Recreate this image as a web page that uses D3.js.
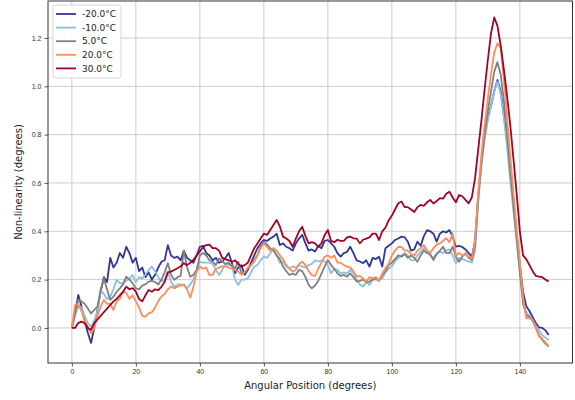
<!DOCTYPE html>
<html>
<head>
<meta charset="utf-8">
<script src="https://cdn.jsdelivr.net/npm/d3@7"></script>
<style>
  body { margin: 0; background: #fff; }
  svg { font-family: "DejaVu Sans", sans-serif; }
</style>
</head>
<body>
<svg id="chart" width="575" height="400"></svg>
<script>
// angular positions (degrees), one sample per degree
var angles = d3.range(0, 150);

var labels = ["-20.0°C", "-10.0°C", "5.0°C", "20.0°C", "30.0°C"];
var colors = ["#313695", "#8cc0de", "#808080", "#fc8d59", "#a50026"];

var tMinus20 = [
  0, 0.06, 0.137, 0.09, 0.03, -0.02, -0.062, 0, 0.075, 0.15,
  0.21, 0.19, 0.29, 0.25, 0.27, 0.31, 0.29, 0.336, 0.31, 0.27,
  0.29, 0.235, 0.25, 0.21, 0.23, 0.2, 0.22, 0.25, 0.274, 0.28,
  0.343, 0.3, 0.29, 0.295, 0.28, 0.32, 0.29, 0.28, 0.27, 0.3,
  0.336, 0.34, 0.31, 0.3, 0.28, 0.29, 0.27, 0.274, 0.29, 0.31,
  0.27, 0.226, 0.25, 0.26, 0.22, 0.24, 0.27, 0.3, 0.33, 0.35,
  0.364, 0.36, 0.37, 0.378, 0.39, 0.343, 0.35, 0.336, 0.33, 0.32,
  0.35, 0.37, 0.385, 0.35, 0.32, 0.325, 0.316, 0.34, 0.33, 0.36,
  0.364, 0.35, 0.336, 0.31, 0.295, 0.31, 0.315, 0.336, 0.31, 0.28,
  0.275, 0.268, 0.28, 0.254, 0.29, 0.285, 0.295, 0.254, 0.33, 0.34,
  0.35, 0.364, 0.37, 0.378, 0.375, 0.357, 0.32, 0.325, 0.357, 0.34,
  0.38, 0.405, 0.4, 0.39, 0.357, 0.39, 0.4, 0.395, 0.405, 0.378,
  0.336, 0.34, 0.335, 0.325, 0.31, 0.295, 0.36, 0.55, 0.69, 0.8,
  0.87, 0.92, 0.98, 1.026, 0.98, 0.88, 0.78, 0.64, 0.51, 0.39,
  0.26, 0.15, 0.09, 0.07, 0.045, 0.02, 0.002, 0, -0.01, -0.029
];

var tMinus10 = [
  0, 0.05, 0.088, 0.085, 0.05, 0.02, 0.005, 0.03, 0.068, 0.157,
  0.14, 0.12, 0.13, 0.16, 0.199, 0.185, 0.185, 0.195, 0.205, 0.219,
  0.19, 0.21, 0.205, 0.22, 0.24, 0.254, 0.235, 0.21, 0.192, 0.2,
  0.233, 0.19, 0.171, 0.18, 0.18, 0.175, 0.164, 0.18, 0.2, 0.24,
  0.274, 0.27, 0.27, 0.27, 0.265, 0.24, 0.219, 0.24, 0.265, 0.26,
  0.26, 0.2, 0.178, 0.2, 0.2, 0.205, 0.23, 0.254, 0.26, 0.28,
  0.295, 0.29, 0.309, 0.33, 0.3, 0.27, 0.275, 0.254, 0.245, 0.255,
  0.25, 0.26, 0.255, 0.25, 0.26, 0.265, 0.28, 0.275, 0.28, 0.275,
  0.26, 0.226, 0.245, 0.24, 0.226, 0.23, 0.225, 0.24, 0.225, 0.2,
  0.18, 0.171, 0.19, 0.178, 0.2, 0.2, 0.2, 0.205, 0.23, 0.245,
  0.255, 0.275, 0.29, 0.3, 0.31, 0.3, 0.28, 0.281, 0.3, 0.315,
  0.33, 0.32, 0.3, 0.29, 0.31, 0.315, 0.31, 0.32, 0.325, 0.3,
  0.268, 0.29, 0.285, 0.28, 0.274, 0.27, 0.32, 0.52, 0.67, 0.78,
  0.86, 0.92, 0.98, 1.02, 0.97, 0.87, 0.75, 0.61, 0.48, 0.36,
  0.23, 0.11, 0.065, 0.05, 0.03, 0.01, -0.01, -0.03, -0.04, -0.05
];

var t5 = [
  0, 0.06, 0.116, 0.11, 0.1, 0.08, 0.06, 0.075, 0.088, 0.157,
  0.205, 0.16, 0.116, 0.13, 0.15, 0.164, 0.18, 0.212, 0.2, 0.185,
  0.164, 0.16, 0.175, 0.18, 0.192, 0.195, 0.19, 0.18, 0.2, 0.23,
  0.268, 0.22, 0.199, 0.21, 0.215, 0.32, 0.25, 0.212, 0.22, 0.24,
  0.3, 0.31, 0.3, 0.28, 0.274, 0.26, 0.288, 0.275, 0.265, 0.27,
  0.255, 0.247, 0.274, 0.226, 0.23, 0.245, 0.26, 0.281, 0.3, 0.34,
  0.357, 0.345, 0.33, 0.32, 0.3, 0.285, 0.254, 0.235, 0.219, 0.225,
  0.22, 0.24, 0.235, 0.21, 0.178, 0.164, 0.175, 0.195, 0.225, 0.254,
  0.281, 0.26, 0.245, 0.226, 0.215, 0.22, 0.212, 0.226, 0.21, 0.192,
  0.195, 0.2, 0.19, 0.192, 0.2, 0.205, 0.195, 0.22, 0.233, 0.26,
  0.27, 0.285, 0.3, 0.295, 0.305, 0.29, 0.3, 0.29, 0.274, 0.3,
  0.32, 0.31, 0.305, 0.281, 0.305, 0.32, 0.336, 0.31, 0.31, 0.336,
  0.295, 0.274, 0.295, 0.309, 0.29, 0.281, 0.34, 0.54, 0.69, 0.8,
  0.9, 0.98, 1.06, 1.1, 1.05, 0.94, 0.8, 0.65, 0.51, 0.37,
  0.23, 0.1, 0.054, 0.045, 0.03, 0, -0.03, -0.05, -0.065, -0.077
];

var t20 = [
  0, 0.095, 0.1, 0.07, 0.03, 0.005, -0.022, 0, 0.05, 0.088,
  0.116, 0.1, 0.1, 0.074, 0.11, 0.12, 0.15, 0.145, 0.12, 0.135,
  0.11, 0.085, 0.05, 0.047, 0.06, 0.065, 0.085, 0.11, 0.13, 0.14,
  0.16, 0.171, 0.165, 0.171, 0.175, 0.18, 0.16, 0.125, 0.17, 0.233,
  0.254, 0.245, 0.25, 0.219, 0.22, 0.245, 0.25, 0.255, 0.255, 0.25,
  0.245, 0.24, 0.233, 0.22, 0.23, 0.25, 0.26, 0.274, 0.3, 0.33,
  0.35, 0.335, 0.32, 0.33, 0.32, 0.3, 0.285, 0.26, 0.245, 0.233,
  0.24, 0.265, 0.274, 0.26, 0.235, 0.219, 0.215, 0.245, 0.27, 0.295,
  0.3, 0.29, 0.3, 0.27, 0.27, 0.26, 0.254, 0.25, 0.235, 0.212,
  0.215, 0.205, 0.192, 0.21, 0.205, 0.21, 0.195, 0.225, 0.247, 0.265,
  0.3, 0.32, 0.336, 0.335, 0.32, 0.32, 0.305, 0.3, 0.32, 0.33,
  0.343, 0.32, 0.31, 0.33, 0.345, 0.35, 0.36, 0.371, 0.355, 0.392,
  0.3, 0.31, 0.3, 0.305, 0.295, 0.288, 0.36, 0.56, 0.72, 0.84,
  0.95, 1.05, 1.14, 1.178, 1.16, 1.03, 0.87, 0.71, 0.56, 0.41,
  0.27, 0.13, 0.04, 0.04, 0.035, 0, -0.035, -0.045, -0.06, -0.075
];

var t30 = [
  0, 0, 0.02, 0.026, 0.02, 0, -0.008, 0.02, 0.035, 0.05,
  0.065, 0.08, 0.095, 0.11, 0.12, 0.135, 0.15, 0.171, 0.16, 0.165,
  0.15, 0.12, 0.11, 0.135, 0.157, 0.15, 0.16, 0.157, 0.17, 0.19,
  0.23, 0.233, 0.24, 0.247, 0.255, 0.268, 0.26, 0.27, 0.281, 0.3,
  0.316, 0.335, 0.343, 0.345, 0.33, 0.33, 0.32, 0.29, 0.285, 0.28,
  0.274, 0.28, 0.265, 0.254, 0.26, 0.27, 0.3, 0.33, 0.35, 0.37,
  0.39, 0.385, 0.405, 0.426, 0.447, 0.42, 0.378, 0.37, 0.36, 0.336,
  0.37, 0.4, 0.419, 0.38, 0.35, 0.355, 0.35, 0.336, 0.35, 0.385,
  0.405, 0.36, 0.355, 0.365, 0.36, 0.36, 0.375, 0.378, 0.371, 0.37,
  0.35, 0.365, 0.37, 0.375, 0.39, 0.39, 0.364, 0.4, 0.415, 0.445,
  0.465, 0.49, 0.516, 0.523, 0.5, 0.5, 0.49, 0.48, 0.5, 0.509,
  0.505, 0.52, 0.53, 0.515, 0.525, 0.537, 0.535, 0.555, 0.564, 0.54,
  0.52, 0.55, 0.545, 0.53, 0.516, 0.54, 0.62, 0.74, 0.86, 0.99,
  1.11, 1.22, 1.285, 1.25, 1.17, 1.07, 0.96, 0.84, 0.7, 0.557,
  0.4, 0.3, 0.285, 0.26, 0.235, 0.215, 0.212, 0.21, 0.2, 0.192
];

var seriesValues = [tMinus20, tMinus10, t5, t20, t30];

var xTicks = [0, 20, 40, 60, 80, 100, 120, 140];
var yTicks = [0.0, 0.2, 0.4, 0.6, 0.8, 1.0, 1.2];

var svg = d3.select("#chart");

// axes box
var boxLeft = 48, boxRight = 572.5, boxTop = 1, boxBottom = 363;

// matplotlib style 5% margins
var xMin = d3.min(angles), xMax = d3.max(angles);
var allVals = d3.merge(seriesValues);
var yMin = d3.min(allVals), yMax = d3.max(allVals);
var xPad = (xMax - xMin) * 0.05, yPad = (yMax - yMin) * 0.05;

var x = d3.scaleLinear().domain([xMin - xPad, xMax + xPad]).range([boxLeft, boxRight]);
var y = d3.scaleLinear().domain([yMin - yPad, yMax + yPad]).range([boxBottom, boxTop]);

// grid
var grid = svg.append("g").attr("stroke", "#cccccc").attr("stroke-width", 1);
grid.selectAll("line.vx")
  .data(xTicks)
  .enter().append("line")
    .attr("x1", d => x(d)).attr("x2", d => x(d))
    .attr("y1", boxTop).attr("y2", boxBottom);
grid.selectAll("line.hy")
  .data(yTicks)
  .enter().append("line")
    .attr("x1", boxLeft).attr("x2", boxRight)
    .attr("y1", d => y(d)).attr("y2", d => y(d));

// lines
svg.append("clipPath").attr("id", "clip")
  .append("rect")
    .attr("x", boxLeft).attr("y", boxTop)
    .attr("width", boxRight - boxLeft).attr("height", boxBottom - boxTop);

var line = d3.line()
  .x((d, i) => x(angles[i]))
  .y(d => y(d));

svg.append("g")
  .attr("clip-path", "url(#clip)")
  .selectAll("path")
  .data(seriesValues)
  .enter().append("path")
    .attr("d", d => line(d))
    .attr("fill", "none")
    .attr("stroke", (d, i) => colors[i])
    .attr("stroke-width", 1.8)
    .attr("stroke-linejoin", "round");

// axes
var xAxis = d3.axisBottom(x).tickValues(xTicks).tickFormat(d3.format("d")).tickSize(3.5).tickPadding(3);
var yAxis = d3.axisLeft(y).tickValues(yTicks).tickFormat(d3.format(".1f")).tickSize(3.5).tickPadding(3);

var gx = svg.append("g").attr("transform", "translate(0," + boxBottom + ")").call(xAxis);
var gy = svg.append("g").attr("transform", "translate(" + boxLeft + ",0)").call(yAxis);
[gx, gy].forEach(function(g) {
  g.select(".domain").remove();
  g.selectAll(".tick line").attr("stroke", "#333").attr("stroke-width", 0.8);
  g.selectAll(".tick text").attr("fill", "#333").style("font-size", "7px");
});

// frame
svg.append("rect")
  .attr("x", boxLeft).attr("y", boxTop)
  .attr("width", boxRight - boxLeft).attr("height", boxBottom - boxTop)
  .attr("fill", "none")
  .attr("stroke", "#333")
  .attr("stroke-width", 1);

// axis labels
svg.append("text")
  .attr("x", (boxLeft + boxRight) / 2).attr("y", 389)
  .attr("text-anchor", "middle")
  .style("font-size", "10px")
  .attr("fill", "#222")
  .text("Angular Position (degrees)");

svg.append("text")
  .attr("transform", "translate(22," + ((boxTop + boxBottom) / 2) + ") rotate(-90)")
  .attr("text-anchor", "middle")
  .style("font-size", "10px")
  .attr("fill", "#222")
  .text("Non-linearity (degrees)");

// legend
var legend = svg.append("g").attr("transform", "translate(53,5)");
legend.append("rect")
  .attr("width", 68).attr("height", 73)
  .attr("rx", 2.5)
  .attr("fill", "#fff").attr("fill-opacity", 0.85)
  .attr("stroke", "#d6d6d6");

var item = legend.selectAll("g.item")
  .data(labels)
  .enter().append("g")
    .attr("transform", (d, i) => "translate(0," + (9 + i * 13.6) + ")");
item.append("line")
  .attr("x1", 3).attr("x2", 23)
  .attr("stroke", (d, i) => colors[i])
  .attr("stroke-width", 1.8);
item.append("text")
  .attr("x", 29).attr("dy", "0.35em")
  .style("font-size", "9px")
  .attr("fill", "#222")
  .text(d => d);
</script>
</body>
</html>
